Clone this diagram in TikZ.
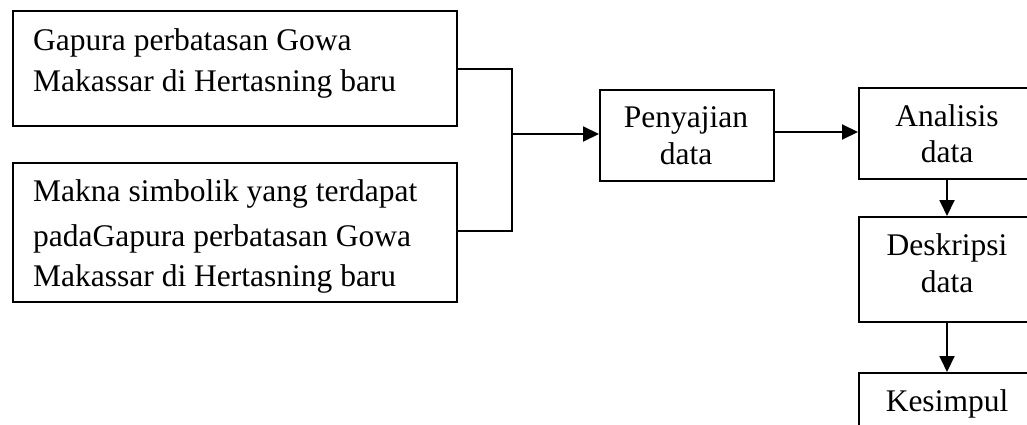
\documentclass[tikz,border=0pt]{standalone}
\usepackage{fontspec}
\setmainfont{Liberation Serif}
\usetikzlibrary{arrows.meta}
\tikzset{
  x=1pt, y=1pt,
  box/.style={draw=black, line width=1.9pt, rectangle, inner sep=0pt, anchor=north west},
  txt/.style={font=\fontsize{31.5}{36}\selectfont, inner sep=0pt},
  conn/.style={draw=black, line width=1.9pt},
  arr/.style={conn, -{Triangle[length=16pt,width=15pt]}}
}
\begin{document}
\begin{tikzpicture}
\useasboundingbox (0,0) rectangle (1027,-425);
\clip (0,0) rectangle (1027,-425);
% boxes
\node[box, minimum width=444pt, minimum height=115pt] (b1) at (12,-10) {};
\node[box, minimum width=444pt, minimum height=139pt] (b2) at (12,-162) {};
\node[box, minimum width=174pt, minimum height=91pt] (pen) at (599,-89) {};
\node[box, minimum width=178pt, minimum height=91pt] (ana) at (858,-87) {};
\node[box, minimum width=178pt, minimum height=105pt] (des) at (858,-216) {};
\node[box, minimum width=178pt, minimum height=100pt] (kes) at (858,-372) {};
% texts
\node[txt, anchor=base west] (t1a) at (33,-51) {Gapura perbatasan Gowa};
\node[txt, anchor=base west] (t1b) at (33,-92) {Makassar di Hertasning baru};
\node[txt, anchor=base west] (t2a) at (33,-201) {Makna simbolik yang terdapat};
\node[txt, anchor=base west] (t2b) at (33,-246) {padaGapura perbatasan Gowa};
\node[txt, anchor=base west] (t2c) at (33,-286) {Makassar di Hertasning baru};
\node[txt, anchor=base] (tp1) at (686,-128) {Penyajian};
\node[txt, anchor=base] (tp2) at (686,-164) {data};
\node[txt, anchor=base] (ta1) at (947,-126) {Analisis};
\node[txt, anchor=base] (ta2) at (947,-162) {data};
\node[txt, anchor=base] (td1) at (947,-255) {Deskripsi};
\node[txt, anchor=base] (td2) at (947,-292) {data};
\node[txt, anchor=base] (tk1) at (947,-411) {Kesimpul};
% connectors
\coordinate (j1) at (512,-69);
\coordinate (j2) at (512,-231);
\coordinate (jm) at (512,-134);
\draw[conn] (b1.east |- j1) -- (j1) -- (j2) -- (b2.east |- j2);
\draw[arr] (jm) -- (pen.west |- jm);
\draw[arr] (pen.east |- 0,-132) -- (ana.west |- 0,-132);
\draw[arr] (947,0 |- ana.south) -- (947,0 |- des.north);
\draw[arr] (947,0 |- des.south) -- (947,0 |- kes.north);
\end{tikzpicture}
\end{document}
